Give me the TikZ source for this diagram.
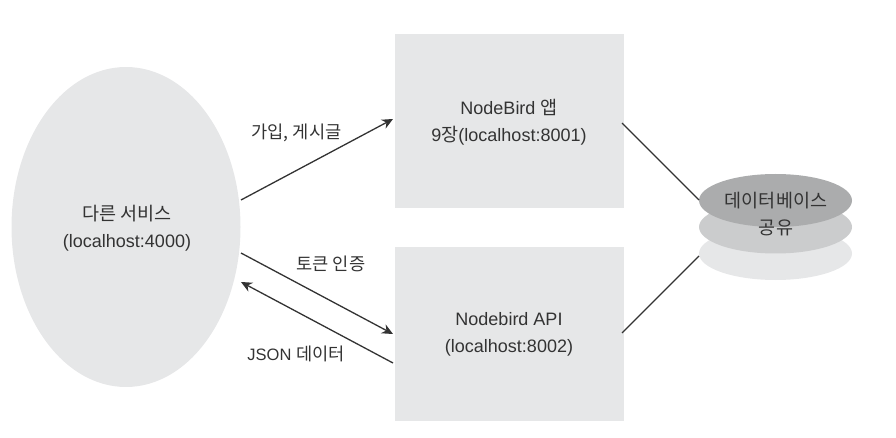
\documentclass[tikz,border=0pt]{standalone}
\usepackage{fontspec}
\setmainfont{Liberation Sans}
\newfontfamily\kr{Noto Sans CJK KR}
\usetikzlibrary{arrows.meta,shapes.geometric}
\definecolor{pale}{HTML}{E6E7E8}
\definecolor{midg}{HTML}{CBCCCD}
\definecolor{darkg}{HTML}{ABACAD}
\definecolor{inkc}{HTML}{333333}
\newcommand{\ko}[1]{{\kr\fontsize{18.5}{27}\selectfont #1}}
\newcommand{\koS}[1]{{\kr\fontsize{17.6}{20}\selectfont #1}}
\tikzset{
  x=1pt,y=-1pt,
  txt/.style={font=\fontsize{18}{27}\selectfont,text=inkc,align=center,inner sep=0pt},
  lbl/.style={font=\fontsize{16.5}{20}\selectfont,text=inkc,align=center,inner sep=0pt},
  box/.style={fill=pale,draw=none,minimum width=229pt,inner sep=0pt},
  disc/.style={ellipse,draw=none,inner sep=0pt,minimum width=153pt,minimum height=53pt},
  conn/.style={draw=inkc,line width=1.3pt},
  arr/.style={conn,-{Stealth[length=11pt,width=10pt]}}
}
\begin{document}
\begin{tikzpicture}
\useasboundingbox (0,0) rectangle (896,438);
\node[ellipse,fill=pale,inner sep=0pt,minimum width=229pt,minimum height=320pt] (svc) at (126,227) {};
\node[txt] (svct) at (127,228) {\ko{다른 서비스}\\(localhost:4000)};
\node[box,minimum height=174pt] (app) at (509.5,121) {};
\node[txt] (appt) at (509,122.5) {NodeBird \ko{앱}\\9\ko{장}(localhost:8001)};
\node[box,minimum height=174pt] (api) at (509.5,334) {};
\node[txt] (apit) at (509,334.5) {Nodebird API\\(localhost:8002)};
\node[disc,fill=pale] (d3) at (775.5,253.5) {};
\node[disc,fill=midg] (d2) at (775.5,227) {};
\node[disc,fill=darkg] (d1) at (775.5,200.5) {};
\node[txt] (dbt) at (776,214.5) {\ko{데이터베이스}\\\ko{공유}};
\coordinate (a1) at (241,200);
\coordinate (a2) at (393,119);
\coordinate (b1) at (241,253);
\coordinate (b2) at (393,334);
\coordinate (c1) at (393,363);
\coordinate (c2) at (241,282);
\coordinate (e1) at (622,123);
\coordinate (e2) at (699,200);
\coordinate (f1) at (622,333);
\coordinate (f2) at (699,256);
\draw[arr] (a1) -- (a2);
\draw[arr] (b1) -- (b2);
\draw[arr] (c1) -- (c2);
\draw[conn] (e1) -- (e2);
\draw[conn] (f1) -- (f2);
\node[lbl] (l1) at (296.5,132.5) {\koS{가입, 게시글}};
\node[lbl] (l2) at (331,264) {\koS{토큰 인증}};
\node[lbl] (l3) at (296,354) {JSON \koS{데이터}};
\end{tikzpicture}
\end{document}
